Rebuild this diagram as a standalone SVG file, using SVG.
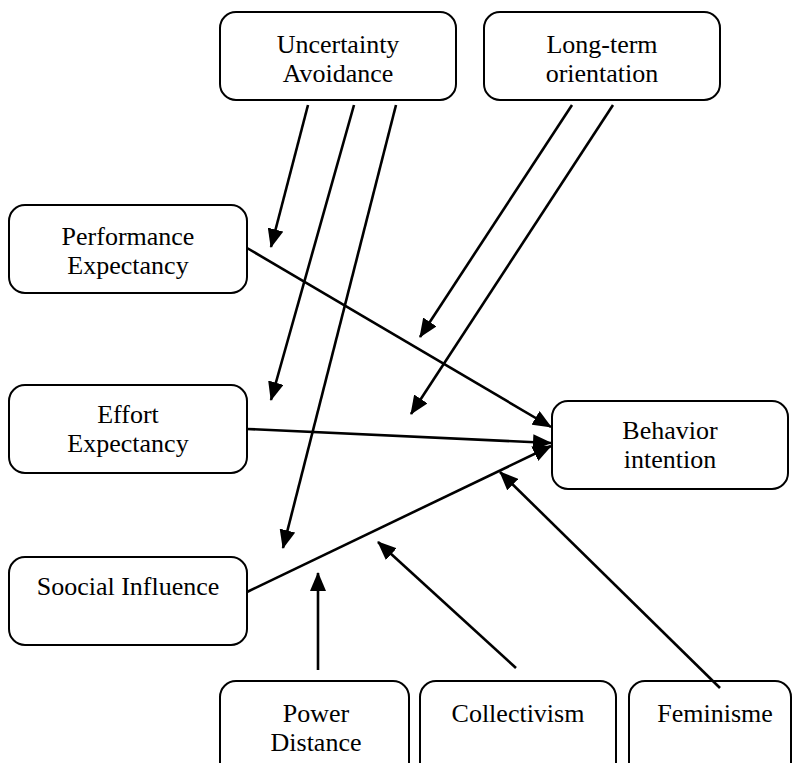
<svg xmlns="http://www.w3.org/2000/svg" width="794" height="763" viewBox="0 0 794 763">
<style>
.box{fill:#fff;stroke:#000;stroke-width:2}
.t{font-family:"Liberation Serif","Times New Roman",serif;font-size:26px;fill:#000;text-anchor:middle}
.c{stroke:#000;stroke-width:2.6;fill:none;marker-end:url(#ah)}
</style>
<defs>
<marker id="ah" markerUnits="userSpaceOnUse" markerWidth="19" markerHeight="16" viewBox="0 0 19 16" refX="18" refY="8" orient="auto">
<path d="M0,0 L19,8 L0,16 z" fill="#000"/>
</marker>
</defs>
<rect width="794" height="763" fill="#fff"/>
<g id="ua"><rect class="box" x="220" y="12" width="236" height="88" rx="16"/><text class="t" x="338" y="53">Uncertainty</text><text class="t" x="338" y="82">Avoidance</text></g>
<g id="lto"><rect class="box" x="484" y="12" width="236" height="88" rx="16"/><text class="t" x="602" y="53">Long-term</text><text class="t" x="602" y="82">orientation</text></g>
<g id="pe"><rect class="box" x="9" y="205" width="238" height="88" rx="16"/><text class="t" x="128" y="245">Performance</text><text class="t" x="128" y="274">Expectancy</text></g>
<g id="ee"><rect class="box" x="9" y="385" width="238" height="88" rx="16"/><text class="t" x="128" y="423">Effort</text><text class="t" x="128" y="452">Expectancy</text></g>
<g id="si"><rect class="box" x="9" y="557" width="238" height="88" rx="16"/><text class="t" x="128" y="595">Soocial Influence</text></g>
<g id="bi"><rect class="box" x="552" y="401" width="236" height="88" rx="16"/><text class="t" x="670" y="439">Behavior</text><text class="t" x="670" y="468">intention</text></g>
<g id="pd"><rect class="box" x="220" y="681" width="189" height="100" rx="16"/><text class="t" x="316" y="722">Power</text><text class="t" x="316" y="751">Distance</text></g>
<g id="col"><rect class="box" x="420" y="681" width="196" height="100" rx="16"/><text class="t" x="518" y="722">Collectivism</text></g>
<g id="fem"><rect class="box" x="629" y="681" width="162" height="100" rx="16"/><text class="t" x="715" y="722">Feminisme</text></g>
<g id="connectors">
<line class="c" x1="247" y1="248" x2="551" y2="427"/>
<line class="c" x1="247" y1="429" x2="551" y2="443"/>
<line class="c" x1="247" y1="592" x2="551" y2="446"/>
<line class="c" x1="308" y1="105" x2="271" y2="247"/>
<line class="c" x1="354" y1="105" x2="271" y2="400"/>
<line class="c" x1="396" y1="105" x2="283" y2="548"/>
<line class="c" x1="572" y1="105" x2="420" y2="337"/>
<line class="c" x1="613" y1="105" x2="411" y2="414"/>
<line class="c" x1="318" y1="670" x2="318" y2="573"/>
<line class="c" x1="516" y1="668" x2="378" y2="542"/>
<line class="c" x1="720" y1="688" x2="500" y2="472"/>
</g>
</svg>
